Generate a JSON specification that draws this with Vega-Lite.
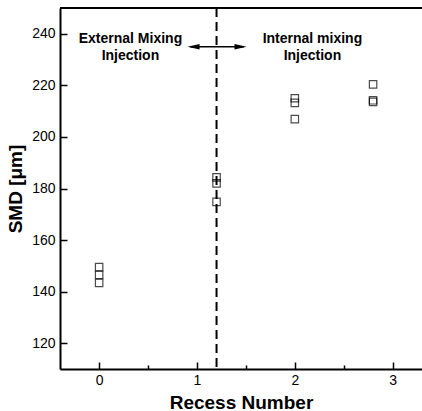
{
  "$schema": "https://vega.github.io/schema/vega-lite/v6.json",
  "width": 362,
  "height": 361,
  "autosize": "none",
  "padding": {"left": 60, "top": 8, "right": 0, "bottom": 42},
  "config": {
    "view": {"stroke": null},
    "font": "Liberation Sans",
    "axis": {
      "domainColor": "black",
      "domainWidth": 2,
      "tickColor": "black",
      "tickWidth": 1.5,
      "grid": false,
      "labelColor": "black",
      "labelFont": "Liberation Sans",
      "labelFontSize": 14,
      "titleColor": "black",
      "titleFont": "Liberation Sans",
      "titleFontSize": 19,
      "titleFontWeight": "bold"
    }
  },
  "datasets": {
    "pts": [
      {"recess": 0, "smd": 149.5},
      {"recess": 0, "smd": 146.5},
      {"recess": 0, "smd": 143.4},
      {"recess": 1.2, "smd": 184.3},
      {"recess": 1.2, "smd": 182},
      {"recess": 1.2, "smd": 174.8},
      {"recess": 2, "smd": 215},
      {"recess": 2, "smd": 213.2},
      {"recess": 2, "smd": 206.9},
      {"recess": 2.8, "smd": 220.4},
      {"recess": 2.8, "smd": 214.2},
      {"recess": 2.8, "smd": 213.6}
    ],
    "one": [{}]
  },
  "layer": [
    {
      "data": {"name": "pts"},
      "mark": {"type": "point", "shape": "square", "filled": false, "stroke": "black", "strokeWidth": 1.2, "size": 55},
      "encoding": {
        "x": {
          "field": "recess", "type": "quantitative",
          "scale": {"domain": [-0.4, 3.3], "nice": false, "zero": false},
          "axis": {
            "title": "Recess Number",
            "values": [0, 0.5, 1, 1.5, 2, 2.5, 3],
            "labelExpr": "datum.value % 1 === 0 ? format(datum.value, 'd') : ''",
            "tickSize": {"condition": {"test": "datum.value % 1 === 0", "value": -7}, "value": -4},
            "labelPadding": 11,
            "titlePadding": 6
          }
        },
        "y": {
          "field": "smd", "type": "quantitative",
          "scale": {"domain": [110, 250], "nice": false, "zero": false},
          "axis": {
            "title": "SMD [μm]",
            "values": [120, 130, 140, 150, 160, 170, 180, 190, 200, 210, 220, 230, 240],
            "labelExpr": "datum.value % 20 === 0 ? format(datum.value, 'd') : ''",
            "tickSize": {"condition": {"test": "datum.value % 20 === 0", "value": -7}, "value": -4},
            "labelPadding": 12,
            "titlePadding": 6
          }
        }
      }
    },
    {
      "data": {"name": "one"},
      "mark": {"type": "rule", "stroke": "black", "strokeWidth": 2},
      "encoding": {"y": {"datum": 250}}
    },
    {
      "data": {"name": "one"},
      "mark": {"type": "rule", "stroke": "black", "strokeWidth": 2, "strokeDash": [9, 5]},
      "encoding": {"x": {"datum": 1.2}}
    },
    {
      "data": {"name": "one"},
      "mark": {"type": "rule", "stroke": "black", "strokeWidth": 1.5},
      "encoding": {"x": {"datum": 0.93}, "x2": {"datum": 1.48}, "y": {"datum": 235}}
    },
    {
      "data": {"name": "one"},
      "mark": {"type": "point", "shape": "M-1,0L1,-0.45L1,0.45Z", "filled": true, "color": "black", "size": 144, "opacity": 1},
      "encoding": {"x": {"datum": 0.965}, "y": {"datum": 235}}
    },
    {
      "data": {"name": "one"},
      "mark": {"type": "point", "shape": "M1,0L-1,-0.45L-1,0.45Z", "filled": true, "color": "black", "size": 144, "opacity": 1},
      "encoding": {"x": {"datum": 1.445}, "y": {"datum": 235}}
    },
    {
      "data": {"name": "one"},
      "mark": {"type": "text", "font": "Liberation Sans", "fontWeight": "bold", "fontSize": 14, "align": "center", "baseline": "middle", "lineHeight": 17, "color": "black"},
      "encoding": {"x": {"datum": 0.32}, "y": {"datum": 237.8}, "text": {"value": ["External Mixing", "Injection"]}}
    },
    {
      "data": {"name": "one"},
      "mark": {"type": "text", "font": "Liberation Sans", "fontWeight": "bold", "fontSize": 14, "align": "center", "baseline": "middle", "lineHeight": 17, "color": "black"},
      "encoding": {"x": {"datum": 2.18}, "y": {"datum": 237.8}, "text": {"value": ["Internal mixing", "Injection"]}}
    }
  ]
}
